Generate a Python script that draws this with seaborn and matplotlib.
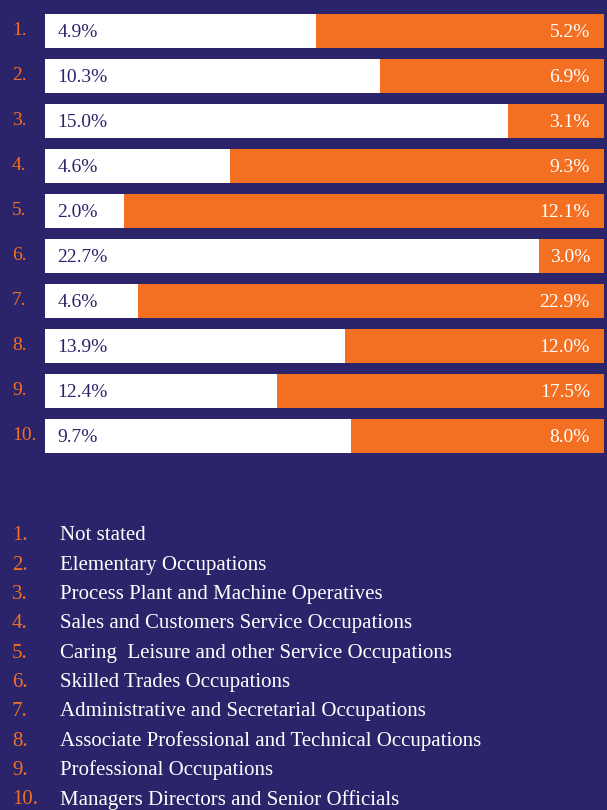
import pandas as pd
import numpy as np
import matplotlib.pyplot as plt
import seaborn as sns

# data
rank = ['1.', '2.', '3.', '4.', '5.', '6.', '7.', '8.', '9.', '10.']
white_pct = [4.9, 10.3, 15.0, 4.6, 2.0, 22.7, 4.6, 13.9, 12.4, 9.7]
orange_pct = [5.2, 6.9, 3.1, 9.3, 12.1, 3.0, 22.9, 12.0, 17.5, 8.0]
occupations = ['Not stated',
               'Elementary Occupations',
               'Process Plant and Machine Operatives',
               'Sales and Customers Service Occupations',
               'Caring  Leisure and other Service Occupations',
               'Skilled Trades Occupations',
               'Administrative and Secretarial Occupations',
               'Associate Professional and Technical Occupations',
               'Professional Occupations',
               'Managers Directors and Senior Officials']

BG = '#2b246a'
ORANGE = '#f36f21'

df = pd.DataFrame({'rank': rank, 'white': white_pct, 'orange': orange_pct})
df['total'] = df.white + df.orange
df['white_share'] = df.white / df.total
df['full'] = 1.0

sns.set_style('white')
plt.rcParams['font.family'] = ['Liberation Serif', 'DejaVu Serif']

fig = plt.figure(figsize=(6.07, 8.10), dpi=100, facecolor=BG)
ax = fig.add_axes([0.074, 0.434, 0.921, 0.5555])
ax.set_facecolor(BG)

sns.barplot(data=df, x='full', y='rank', orient='h', color=ORANGE,
            width=0.76, saturation=1, linewidth=0, ax=ax)
sns.barplot(data=df, x='white_share', y='rank', orient='h', color='white',
            width=0.76, saturation=1, linewidth=0, ax=ax)

ax.set_xlim(0, 1)
ax.set_ylim(9.5, -0.5)
ax.axis('off')

for i, row in df.iterrows():
    ax.text(0.022, i + 0.04, f'{row.white:.1f}%', va='center', ha='left',
            color=BG, fontsize=14)
    ax.text(0.975, i + 0.04, f'{row.orange:.1f}%', va='center', ha='right',
            color='white', fontsize=14)
    ax.text(-33 / 559, i - 0.02, row['rank'], va='center', ha='left',
            color=ORANGE, fontsize=14)

# key below the chart
for i, name in enumerate(occupations):
    y = 1 - (536 + i * 29.3) / 810
    fig.text(12 / 607, y, rank[i], va='center', ha='left', color=ORANGE, fontsize=15)
    fig.text(60 / 607, y, name, va='center', ha='left', color='white', fontsize=15)

fig.savefig('out.png', dpi=100, facecolor=BG)
